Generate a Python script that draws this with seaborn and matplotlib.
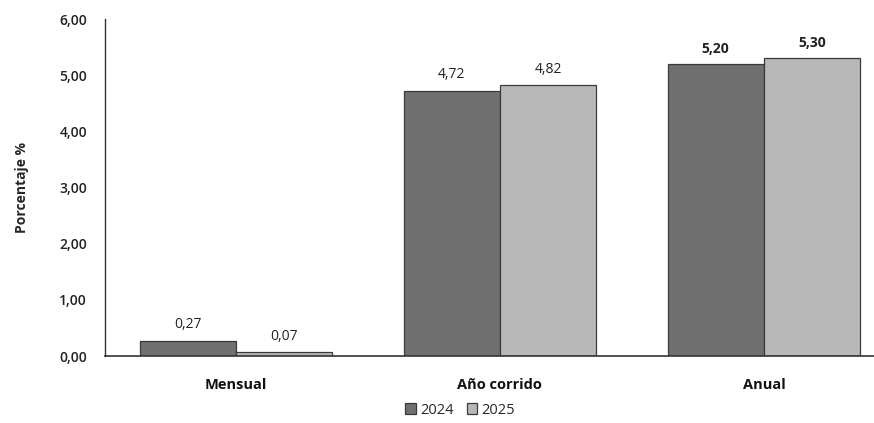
import matplotlib
matplotlib.use('Agg')
import matplotlib.pyplot as plt
import pandas as pd
import seaborn as sns

categorias = ['Mensual', 'Año corrido', 'Anual']
valores_2024 = [0.27, 4.72, 5.20]
valores_2025 = [0.07, 4.82, 5.30]
anios = ['2024', '2025']
ticks_y = [0, 1, 2, 3, 4, 5, 6]

sns.set_style('white')
plt.rcParams['font.family'] = ['Open Sans', 'DejaVu Sans']

df = pd.DataFrame({
    'cat': categorias * 2,
    'valor': valores_2024 + valores_2025,
    'anio': [anios[0]] * 3 + [anios[1]] * 3,
})

fig = plt.figure(figsize=(8.74, 4.23), dpi=100)
ax = fig.add_axes([105 / 874, 1 - 356 / 423, 1 - 105 / 874, (356 - 19) / 423])

colores = {'2024': '#707070', '2025': '#b8b8b8'}
sns.barplot(data=df, x='cat', y='valor', hue='anio', palette=colores,
            width=0.73, gap=0, edgecolor='#3a3a3a', linewidth=0.9, ax=ax)

ax.set_xlim(-0.496, 2.417)
ax.set_ylim(0, 6)
ax.set_yticks(ticks_y)
ax.set_yticklabels([f'{t:.2f}'.replace('.', ',') for t in ticks_y],
                   fontsize=10, fontweight='semibold', color='#222222')
ax.set_xticks(range(len(categorias)))
ax.set_xticklabels(categorias, fontsize=10.5, fontweight='bold', color='#111111')
ax.tick_params(axis='x', length=0, pad=16)
ax.tick_params(axis='y', length=0, pad=13)
ax.set_xlabel('')
ax.set_ylabel('Porcentaje %', fontsize=10, fontweight='bold', labelpad=22)

for s in ['top', 'right']:
    ax.spines[s].set_visible(False)
ax.spines['left'].set_color('#333333')
ax.spines['bottom'].set_color('#333333')
ax.spines['left'].set_linewidth(1.0)
ax.spines['bottom'].set_linewidth(1.2)

for cont in ax.containers:
    for bar in cont:
        h = bar.get_height()
        peso = 'bold' if h > 5 else 'normal'
        ax.text(bar.get_x() + bar.get_width() / 2, h + 0.15,
                f'{h:.2f}'.replace('.', ','), ha='center', va='bottom',
                fontsize=10, fontweight=peso, color='#222222')

handles, labels = ax.get_legend_handles_labels()
ax.legend_.remove()
fig.legend(handles, labels, loc='center', bbox_to_anchor=(460 / 874, 1 - 410 / 423),
           ncol=2, frameon=False, fontsize=10.5, handlelength=0.7, handleheight=0.7,
           handletextpad=0.3, columnspacing=0.9)

fig.savefig('out.png', dpi=100)
